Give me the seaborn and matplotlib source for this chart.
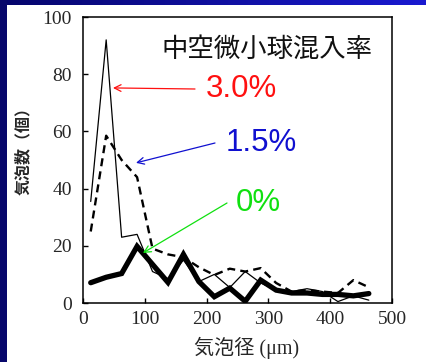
import numpy as np
import pandas as pd
import matplotlib
matplotlib.use("Agg")
import matplotlib.pyplot as plt
import seaborn as sns

# bubble-diameter bin centres (µm)
diameter = [12.5, 37.5, 62.5, 87.5, 112.5, 137.5, 162.5, 187.5, 212.5, 237.5,
            262.5, 287.5, 312.5, 337.5, 362.5, 387.5, 412.5, 437.5, 462.5]
# bubble counts per bin for each hollow-microsphere content
count_30 = [35.5, 92, 23, 24, 11, 8.5, 15, 7.5, 10, 5.4,
            11, 7, 4.5, 4, 5, 4, 0.5, 2.5, 1]
count_15 = [25, 58.5, 50, 44, 19, 17, 16, 12.5, 9.8, 12,
            11, 12.2, 7, 4, 4.5, 4, 3.5, 8, 5.5]
count_00 = [7.1, 9, 10.3, 19.8, 13.5, 7.2, 17, 7.5, 2.2, 5.2,
            0.6, 8, 4.5, 3.5, 3.5, 3, 3, 2.5, 3.3]

x_ticks = [0, 100, 200, 300, 400, 500]
y_ticks = [0, 20, 40, 60, 80, 100]

sns.set_style("white")
plt.rcParams["font.family"] = ["Liberation Serif", "Noto Sans CJK JP"]

df = pd.DataFrame({"d": diameter, "c30": count_30, "c15": count_15, "c00": count_00})

fig = plt.figure(figsize=(4.26, 3.62), dpi=100)
fig.patch.set_facecolor("white")
ax = fig.add_axes([83 / 426, 59 / 362, 309 / 426, 286 / 362])

sns.lineplot(data=df, x="d", y="c30", ax=ax, color="black", lw=0.9, zorder=3)
sns.lineplot(data=df, x="d", y="c15", ax=ax, color="black", lw=1.7,
             zorder=4).lines[-1].set_dashes((3.4, 2.2))
sns.lineplot(data=df, x="d", y="c00", ax=ax, color="black", lw=3.8,
             zorder=5, solid_joinstyle="miter")

ax.set_xlim(0, 500)
ax.set_ylim(0, 100)
ax.set_xticks(x_ticks)
ax.set_yticks(y_ticks)
ax.set_xticklabels([str(v) for v in x_ticks], fontsize=14)
ax.set_yticklabels([str(v) for v in y_ticks], fontsize=14)
ax.tick_params(direction="in", length=3.5, width=1, color="black",
               bottom=True, left=True, top=False, right=False)
ax.tick_params(axis="x", pad=6)
ax.tick_params(axis="y", pad=8)
for s in ax.spines.values():
    s.set_color("black")
    s.set_linewidth(1.1)

ax.set_xlabel("")
ax.set_ylabel("")
fig.text(247 / 426, 1 - 348 / 362, "気泡径 (μm)", ha="center", va="center",
         fontsize=14.5, family=["Liberation Serif", "Noto Sans CJK JP"])
fig.text(23 / 426, 1 - 147 / 362, "気泡数（個）", ha="center", va="center",
         rotation=90, fontsize=11.5, fontweight="bold",
         family=["Noto Sans CJK JP"])

fig.text(267 / 426, 1 - 49 / 362, "中空微小球混入率", ha="center", va="center",
         fontsize=19, family=["Noto Sans CJK JP"], color="#111111")

# content labels with arrows pointing to each curve
labels = [("3.0%", "#ff1010", (48.5, 75.2), (195, 89), (241, 89)),
          ("1.5%", "#1010d0", (85.8, 49), (215, 143), (261, 143)),
          ("0%", "#10e010", (97, 17.5), (227, 203), (258, 203))]
for txt, col, tip, tail_px, txt_px in labels:
    tail = ax.transData.inverted().transform(
        fig.transFigure.transform((tail_px[0] / 426, 1 - tail_px[1] / 362)))
    ax.annotate("", xy=tip, xytext=tail, xycoords="data", textcoords="data",
                arrowprops=dict(arrowstyle="->", color=col, lw=0.9,
                                mutation_scale=12, shrinkA=0, shrinkB=0),
                zorder=6)
    fig.text(txt_px[0] / 426, 1 - txt_px[1] / 362, txt, ha="center", va="center",
             fontsize=22.5, color=col, family=["Liberation Sans"])

# slide frame: navy strip on the left and a blue gradient band along the top
top = np.zeros((5, 426, 3))
grad = np.linspace(0, 1, 426)
top[:, :, 0] = 0.02 + 0.08 * grad
top[:, :, 1] = 0.02 + 0.08 * grad
top[:, :, 2] = 0.42 + 0.40 * grad
fig.figimage(top, xo=0, yo=357, zorder=10)
left = np.zeros((362, 7, 3))
left[:, :, 2] = 0.42
left[:, :, 0] = 0.03
left[:, :, 1] = 0.03
fig.figimage(left, xo=0, yo=0, zorder=11)

fig.savefig("out.png", dpi=100)
